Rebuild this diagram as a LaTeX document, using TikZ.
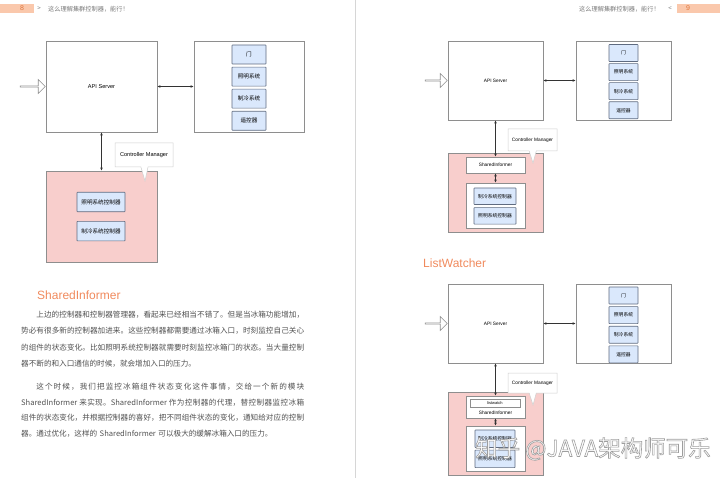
\documentclass[tikz,border=0pt]{standalone}
\usepackage{fontspec}
\setmainfont{Noto Sans CJK SC}
\newfontfamily\arialfont{Liberation Sans}
\usetikzlibrary{
  arrows.meta,
  positioning,
  shapes.arrows,
  shapes.callouts
}
\usepackage{xcolor}
\definecolor{pinkfill}{HTML}{F8CECC}
\definecolor{bluefill}{HTML}{DAE8FC}
\definecolor{boxgray}{HTML}{8E8E8E}
\definecolor{bluegray}{HTML}{5F6B80}
\definecolor{linegray}{HTML}{333333}
\definecolor{tipgray}{HTML}{CFCFCF}
\definecolor{pagegray}{HTML}{D6D6D6}
\definecolor{headorange}{HTML}{F08A5D}
\definecolor{tabfill}{HTML}{FAC8AC}
\definecolor{tabnum}{HTML}{E0783F}
\definecolor{textgray}{HTML}{505050}
\definecolor{headgray}{HTML}{7A7A7A}
% stretchable glue between CJK characters, used by the justified lines
\newcount\cjkcode
\cjkcode="4E00
\loop
  \XeTeXcharclass\cjkcode=1
  \advance\cjkcode by 1
\ifnum\cjkcode<"A000 \repeat
\XeTeXcharclass"FF0C=1
\XeTeXcharclass"3002=1
\XeTeXcharclass"FF01=1
\XeTeXinterchartokenstate=1
\XeTeXinterchartoks 1 1 = {\hskip 0pt plus 2pt\relax}
\newcommand{\fullline}[1]{\parfillskip=0pt\relax #1\par}
\newcommand{\outlined}[1]{\special{pdf:literal direct 0.62 0.62 0.62 RG 0.6 w 2 Tr}#1\special{pdf:literal direct 0 Tr}}
\tikzset{
  dbl/.style={draw=linegray, line width=0.5pt,
    {Latex[length=3pt,width=2.6pt]}-{Latex[length=3pt,width=2.6pt]}},
  frame/.style={draw=boxgray, fill=white, rectangle, line width=0.6pt, inner sep=0pt},
  ctrlbox/.style={frame, fill=pinkfill},
  part/.style={draw=bluegray, fill=bluefill, rectangle, rounded corners=0.5pt,
    line width=0.6pt, inner sep=0pt},
  bubble/.style={rectangle callout, draw=tipgray, fill=white, line width=0.5pt, inner sep=0pt},
  inarrow/.style={single arrow, draw=boxgray, fill=white, line width=0.6pt, inner sep=0pt,
    minimum width=14pt, single arrow head extend=3.5pt, single arrow head indent=0pt, anchor=tip},
  tab/.style={fill=tabfill, rectangle, inner sep=0pt, minimum height=9pt},
  pagenum/.style={text=tabnum, font=\arialfont\fontsize{7}{8}\selectfont, inner sep=0pt},
  runhead/.style={text=headgray, font=\fontsize{6.2}{7}\selectfont, inner sep=0pt},
  secthead/.style={text=headorange, font=\arialfont\fontsize{12}{14}\selectfont, inner sep=0pt, anchor=west},
  txtline/.style={anchor=base west, inner sep=0pt, text width=283pt, align=justify,
    text=textgray, font=\fontsize{7.6}{9}\selectfont},
  txtlast/.style={txtline, align=left},
  watermark/.style={text=white, font=\fontsize{22.5}{24}\selectfont, inner sep=0pt, anchor=west}
}

\begin{document}
\begin{tikzpicture}[x=1pt, y=-1pt]
  \useasboundingbox (0,0) rectangle (720,481);

  % running heads and page edge
  \node[tab, minimum width=34pt] (tab8) at (17,8.5) {};
  \node[pagenum] (num8) at (22,8.5) {8};
  \node[runhead] (gtmark) at (39,9) {>};
  \node[runhead, anchor=west] (headL) at (48,9) {这么理解集群控制器，能行！};
  \node[tab, minimum width=43pt] (tab9) at (698.5,8.5) {};
  \node[pagenum] (num9) at (688,8.5) {9};
  \node[runhead] (ltmark) at (670,9) {<};
  \node[runhead, anchor=east] (headR) at (660,9) {这么理解集群控制器，能行！};
  \draw[pagegray, line width=0.8pt] (355.5,0) -- (355.5,478);

  % controller manager, left page
  \begin{scope}[font=\fontsize{5.6}{6}\selectfont]
    \node[frame, minimum width=111pt, minimum height=91pt] (api) at (101.5,86.5) {\arialfont API Server};
    \node[frame, minimum width=110pt, minimum height=91pt] (dev) at (249,86.5) {};
    \node[part, minimum width=34pt, minimum height=19pt] (door) at (249,54.5) {门};
    \node[part, minimum width=34pt, minimum height=19pt, below=2.5pt of door] (light) {照明系统};
    \node[part, minimum width=34pt, minimum height=19pt, below=2.5pt of light] (cool) {制冷系统};
    \node[part, minimum width=34pt, minimum height=19pt, below=2.5pt of cool] (remote) {遥控器};
    \node[inarrow, minimum height=25pt] (push) at (api.west) {};
    \draw[dbl] (api.east) -- (dev.west);

    \node[ctrlbox, minimum width=111pt, minimum height=91pt] (cm) at (101.5,216.5) {};
    \node[part, minimum width=48pt, minimum height=19.5pt] (lightctl) at (101,202) {照明系统控制器};
    \node[part, minimum width=48pt, minimum height=19.5pt, below=9pt of lightctl] (coolctl) {制冷系统控制器};
    \draw[dbl] (api.south) -- (cm.north);
    \node[bubble, minimum width=58pt, minimum height=24pt,
      callout absolute pointer={(145,181)}] (cmtag) at (144,155) {\arialfont Controller Manager};
  \end{scope}

  % SharedInformer text
  \node[secthead] (shtitle) at (37,295) {SharedInformer};
  \node[txtline] (p1a) at (21,317) {\fullline{\hspace*{15.2pt}上边的控制器和控制器管理器，看起来已经相当不错了。但是当冰箱功能增加，}};
  \node[txtline] (p1b) at (21,333.5) {\fullline{势必有很多新的控制器加进来。这些控制器都需要通过冰箱入口，时刻监控自己关心}};
  \node[txtline] (p1c) at (21,350) {\fullline{的组件的状态变化。比如照明系统控制器就需要时刻监控冰箱门的状态。当大量控制}};
  \node[txtlast] (p1d) at (21,366.5) {器不断的和入口通信的时候，就会增加入口的压力。};
  \node[txtline] (p2a) at (21,389.5) {\fullline{\hspace*{15.2pt}这个时候，我们把监控冰箱组件状态变化这件事情，交给一个新的模块}};
  \node[txtline] (p2b) at (21,405) {\fullline{SharedInformer 来实现。SharedInformer 作为控制器的代理，替控制器监控冰箱}};
  \node[txtline] (p2c) at (21,420.5) {\fullline{组件的状态变化，并根据控制器的喜好，把不同组件状态的变化，通知给对应的控制}};
  \node[txtlast] (p2d) at (21,436) {器。通过优化，这样的 SharedInformer 可以极大的缓解冰箱入口的压力。};

  % with SharedInformer, right page
  \begin{scope}[font=\fontsize{4.8}{5}\selectfont]
    \node[frame, minimum width=95pt, minimum height=79pt] (api2) at (495.5,80.5) {\arialfont API Server};
    \node[frame, minimum width=95pt, minimum height=79pt] (dev2) at (623.5,80.5) {};
    \node[part, minimum width=29pt, minimum height=17pt] (door2) at (623.5,53) {门};
    \node[part, minimum width=29pt, minimum height=17pt, below=1.5pt of door2] (light2) {照明系统};
    \node[part, minimum width=29pt, minimum height=17pt, below=1.5pt of light2] (cool2) {制冷系统};
    \node[part, minimum width=29pt, minimum height=17pt, below=1.5pt of cool2] (remote2) {遥控器};
    \node[inarrow, minimum height=22pt] (push2) at (api2.west) {};
    \draw[dbl] (api2.east) -- (dev2.west);

    \node[ctrlbox, minimum width=95pt, minimum height=79pt] (cm2) at (495.5,192.5) {};
    \node[frame, minimum width=59pt, minimum height=16pt] (si2) at (495.5,165) {\arialfont SharedInformer};
    \node[frame, minimum width=59pt, minimum height=45pt] (ctl2) at (495.5,205.5) {};
    \node[part, minimum width=42pt, minimum height=16.5pt] (coolctl2) at (495,196.25) {制冷系统控制器};
    \node[part, minimum width=42pt, minimum height=16.5pt, below=2.5pt of coolctl2] (lightctl2) {照明系统控制器};
    \draw[dbl] (api2.south) -- (si2.north);
    \draw[dbl] (si2.south) -- (ctl2.north);
    \node[bubble, minimum width=49pt, minimum height=22pt,
      callout absolute pointer={(533,163)}] (cmtag2) at (532.5,140) {\arialfont Controller Manager};
  \end{scope}

  % ListWatcher, right page
  \node[secthead] (lwtitle) at (423,263) {ListWatcher};
  \begin{scope}[font=\fontsize{4.8}{5}\selectfont]
    \node[frame, minimum width=95pt, minimum height=79pt] (api3) at (495.5,323.5) {\arialfont API Server};
    \node[frame, minimum width=95pt, minimum height=79pt] (dev3) at (623.5,323.5) {};
    \node[part, minimum width=29pt, minimum height=17pt] (door3) at (623.5,295.5) {门};
    \node[part, minimum width=29pt, minimum height=17pt, below=2pt of door3] (light3) {照明系统};
    \node[part, minimum width=29pt, minimum height=17pt, below=2pt of light3] (cool3) {制冷系统};
    \node[part, minimum width=29pt, minimum height=17pt, below=2pt of cool3] (remote3) {遥控器};
    \node[inarrow, minimum height=22pt] (push3) at (api3.west) {};
    \draw[dbl] (api3.east) -- (dev3.west);

    \node[ctrlbox, minimum width=95pt, minimum height=83pt] (cm3) at (495.5,433.5) {};
    \node[frame, minimum width=59pt, minimum height=22pt] (si3) at (495.5,407) {};
    \node[frame, minimum width=50pt, minimum height=8pt, font=\arialfont\fontsize{4}{4}\selectfont] (lw3) at (495,403) {listwatch};
    \node[inner sep=0pt] (silabel3) at (495.5,412.5) {\arialfont SharedInformer};
    \node[frame, minimum width=59pt, minimum height=45pt] (ctl3) at (495.5,448.5) {};
    \node[part, minimum width=40pt, minimum height=17.5pt] (coolctl3) at (495,438.75) {制冷系统控制器};
    \node[part, minimum width=40pt, minimum height=17.5pt, below=2pt of coolctl3] (lightctl3) {照明系统控制器};
    \draw[dbl] (api3.south) -- (si3.north);
    \draw[dbl] (si3.south) -- (ctl3.north);
    \node[bubble, minimum width=49pt, minimum height=20pt,
      callout absolute pointer={(533,405)}] (cmtag3) at (532.5,383) {\arialfont Controller Manager};
  \end{scope}

  \node[watermark] (wm) at (475,449) {\outlined{知乎 @JAVA架构师可乐}};
\end{tikzpicture}
\end{document}
